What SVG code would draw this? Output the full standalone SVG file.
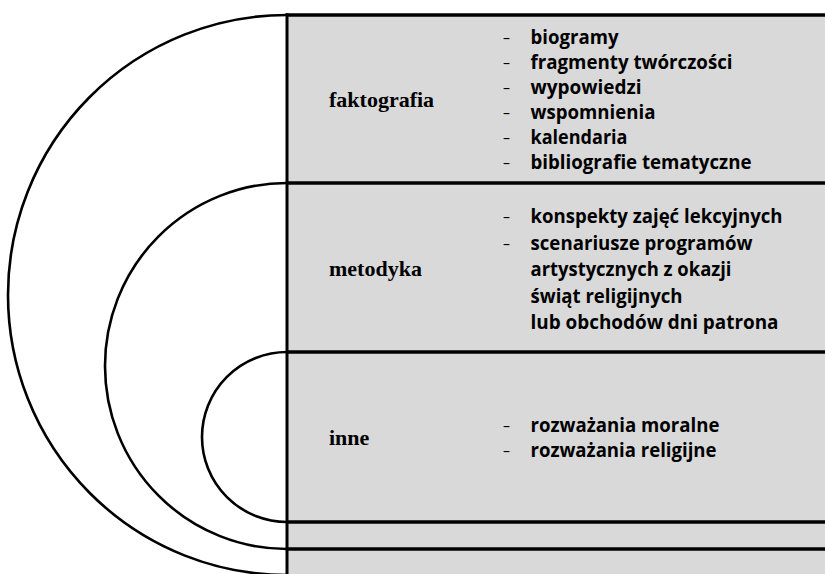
<svg xmlns="http://www.w3.org/2000/svg" width="825" height="574" viewBox="0 0 825 574">
<style>
.arc{fill:none;stroke:#000;stroke-width:2.6}
.rule{stroke:#000;stroke-width:3.6}
.lbl{font-family:"Liberation Serif","Times New Roman",serif;font-weight:bold;font-size:22px;fill:#000}
.item{font-family:"Open Sans","Liberation Sans",sans-serif;font-weight:bold;font-size:19px;fill:#000}
.dash{font-family:"Open Sans","Liberation Sans",sans-serif;font-size:14px;fill:#000}
</style>
<rect x="0" y="0" width="825" height="574" fill="#fff"/>
<rect x="287" y="15" width="538" height="559" fill="#d9d9d9"/>
<g id="connectors">
  <path class="arc" d="M287 15 A279 280 0 0 0 287 575"/>
  <path class="arc" d="M287 183 A182 183 0 0 0 287 549"/>
  <path class="arc" d="M287 352 A85 85 0 0 0 287 522"/>
  <line class="rule" x1="286" y1="15" x2="825" y2="15"/>
  <line class="rule" x1="286" y1="183" x2="825" y2="183"/>
  <line class="rule" x1="286" y1="352" x2="825" y2="352"/>
  <line class="rule" x1="286" y1="522" x2="825" y2="522"/>
  <line class="rule" x1="286" y1="549" x2="825" y2="549"/>
  <line x1="287" y1="13.3" x2="287" y2="574" stroke="#000" stroke-width="3"/>
</g>
<g id="faktografia">
  <text class="lbl" x="329" y="107">faktografia</text>
  <text class="dash" x="503" y="43">–</text>
  <text class="dash" x="503" y="68">–</text>
  <text class="dash" x="503" y="93">–</text>
  <text class="dash" x="503" y="118">–</text>
  <text class="dash" x="503" y="143">–</text>
  <text class="dash" x="503" y="168">–</text>
  <text class="item" x="530.5" y="44" textLength="88" lengthAdjust="spacingAndGlyphs">biogramy</text>
  <text class="item" x="530.5" y="69" textLength="202" lengthAdjust="spacingAndGlyphs">fragmenty twórczości</text>
  <text class="item" x="530.5" y="94" textLength="111" lengthAdjust="spacingAndGlyphs">wypowiedzi</text>
  <text class="item" x="530.5" y="119" textLength="125" lengthAdjust="spacingAndGlyphs">wspomnienia</text>
  <text class="item" x="530.5" y="144" textLength="97" lengthAdjust="spacingAndGlyphs">kalendaria</text>
  <text class="item" x="530.5" y="169" textLength="221" lengthAdjust="spacingAndGlyphs">bibliografie tematyczne</text>
</g>
<g id="metodyka">
  <text class="lbl" x="329" y="276">metodyka</text>
  <text class="dash" x="503" y="222">–</text>
  <text class="dash" x="503" y="248.5">–</text>
  <text class="item" x="530.5" y="223" textLength="252" lengthAdjust="spacingAndGlyphs">konspekty zajęć lekcyjnych</text>
  <text class="item" x="530.5" y="249.5" textLength="222" lengthAdjust="spacingAndGlyphs">scenariusze programów</text>
  <text class="item" x="530.5" y="276" textLength="201" lengthAdjust="spacingAndGlyphs">artystycznych z okazji</text>
  <text class="item" x="530.5" y="302.5" textLength="152" lengthAdjust="spacingAndGlyphs">świąt religijnych</text>
  <text class="item" x="530.5" y="329" textLength="248" lengthAdjust="spacingAndGlyphs">lub obchodów dni patrona</text>
</g>
<g id="inne">
  <text class="lbl" x="329" y="445">inne</text>
  <text class="dash" x="503" y="431">–</text>
  <text class="dash" x="503" y="456">–</text>
  <text class="item" x="530.5" y="432" textLength="189" lengthAdjust="spacingAndGlyphs">rozważania moralne</text>
  <text class="item" x="530.5" y="457" textLength="186" lengthAdjust="spacingAndGlyphs">rozważania religijne</text>
</g>
</svg>
